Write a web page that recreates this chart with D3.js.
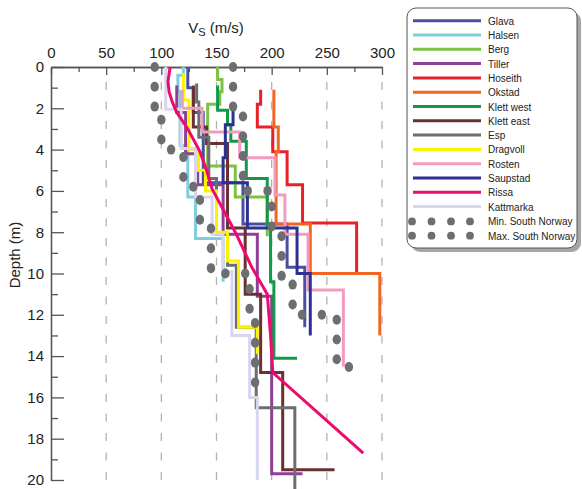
<!DOCTYPE html>
<html>
<head>
<meta charset="utf-8">
<script src="https://cdn.jsdelivr.net/npm/d3@7"></script>
<style>
  body { margin: 0; background: #fff; }
  text { font-family: "Liberation Sans", Arial, sans-serif; fill: #222; }
</style>
</head>
<body>
<div id="chart"></div>
<script>
// site names and colours (legend order)
var sites = ["Glava", "Halsen", "Berg", "Tiller", "Hoseith", "Okstad", "Klett west",
    "Klett east", "Esp", "Dragvoll", "Rosten", "Saupstad", "Rissa", "Kattmarka"];
var colors = ["#4a4fa0", "#7fcde0", "#7dc242", "#8e3f98", "#e8202a", "#f26522", "#0f9a48",
    "#6b3030", "#6d6e71", "#fff200", "#f49ac1", "#2e3192", "#ec0c6e", "#d9d5ef"];

// layers: [Vs, top depth, bottom depth]
var glava = [[124, 0, 1.0], [129, 1.0, 2.2], [138, 2.2, 5.6], [174, 5.6, 7.6], [214, 7.6, 9.7], [230, 9.7, 12.6]];
var halsen = [[120, 0, 0.4], [115, 0.4, 1.2], [117, 1.2, 3.8], [124, 3.8, 6.3], [131, 6.3, 8.3], [156, 8.3, 10.4]];
var berg = [[151, 0, 0.6], [155, 0.6, 1.2], [153, 1.2, 1.8], [142, 1.8, 4.8], [167, 4.8, 6.3], [196, 6.3, 8.2]];
var tiller = [[114, 0.9, 2.2], [122, 2.2, 4.2], [133, 4.2, 5.7], [156, 5.7, 8.1], [187, 8.1, 11.1], [200, 11.1, 19.7], [228, 19.7, 19.7]];
var hoseith = [[190, 1.1, 1.8], [187, 1.8, 2.9], [201, 2.9, 4.1], [214, 4.1, 5.7], [228, 5.7, 7.55], [277, 7.55, 10]];
var okstad = [[202, 1.1, 2.9], [206, 2.9, 4.1], [204, 4.1, 7.6], [235, 7.6, 10], [298, 10, 13]];
var klettWest = [[151, 0.9, 2.1], [160, 2.1, 2.8], [163, 2.8, 3.6], [177, 3.6, 5.4], [196, 5.4, 7.7], [199, 7.7, 10.4], [202, 10.4, 14.1], [223, 14.1, 14.1]];
var klettEast = [[129, 0.9, 2.9], [141, 2.9, 3.7], [160, 3.7, 7.8], [176, 7.8, 11], [190, 11, 14.8], [210, 14.8, 19.5], [257, 19.5, 19.5]];
var esp = [[132, 0.8, 1.7], [134, 1.7, 3.4], [143, 3.4, 5.4], [150, 5.4, 8.1], [160, 8.1, 9.6], [168, 9.6, 12.6], [186, 12.6, 16.5], [221, 16.5, 20.5]];
var dragvoll = [[120, 0.3, 1.6], [125, 1.6, 4], [133, 4, 5], [140, 5, 6], [150, 6, 8], [160, 8, 9.4], [170, 9.4, 12.6], [187, 12.6, 13.9]];
var rosten = [[119, 1.1, 2.0], [137, 2.0, 3.15], [171, 3.15, 4.4], [203, 4.4, 6.2], [212, 6.2, 8.1], [233, 8.1, 10.8], [265, 10.8, 14.5]];
var saupstad = [[165, 2.0, 2.8], [158, 2.8, 4.4], [156, 4.4, 5.6], [178, 5.6, 7.8], [223, 7.8, 10], [235, 10, 13]];
var kattmarka = [[104, 0, 2.05], [118, 2.05, 3.95], [131, 3.95, 6.3], [146, 6.3, 8.1], [156, 8.1, 9.9], [164, 9.9, 13], [180, 13, 16], [187, 16, 20]];
// Rissa is a smooth curve: [Vs, depth]
var rissa = [[108, 0], [106, 0.7], [107, 1.2], [110, 1.7], [114, 2.2], [124, 3.0], [135, 4.1], [141, 5.0],
    [146, 5.9], [157, 7.0], [168, 8.1], [182, 9.7], [196, 11], [199, 13], [201, 14.8], [283, 18.7]];
var profiles = [glava, halsen, berg, tiller, hoseith, okstad, klettWest, klettEast, esp, dragvoll, rosten, saupstad, null, kattmarka];

// South Norway bounds
var minSN = [[94, 0, 2.2], [100, 2.2, 4.0], [120, 4.0, 5.8], [135, 5.8, 7.8], [145, 7.8, 10], [180, 10, 12], [185, 12, 15.3]];
var maxSN = [[165, 0, 2.2], [174, 2.2, 6], [200, 6, 7.8], [209, 7.8, 10.2], [219, 10.2, 12], [259, 12, 14.2], [270, 14.2, 15.3]];

var xTicks = [0, 50, 100, 150, 200, 250, 300];
var xMinor = [25, 75, 125, 175, 225, 275];
var yTicks = [0, 2, 4, 6, 8, 10, 12, 14, 16, 18, 20];
var yMinor = [1, 3, 5, 7, 9, 11, 13, 15, 17, 19];

var svgWidth = 582;
var svgHeight = 489;
var margin = { top: 67, left: 51 };
var width = 331;
var height = 413;

var svg = d3.select("#chart")
    .append("svg")
    .attr("width", svgWidth)
    .attr("height", svgHeight);

var chartGroup = svg.append("g")
    .attr("transform", `translate(${margin.left}, ${margin.top})`);

var x = d3.scaleLinear().domain([0, 300]).range([0, width]);
var y = d3.scaleLinear().domain([0, 20]).range([0, height]);

// dashed grid
chartGroup.selectAll("line.grid")
    .data(xTicks.slice(1))
    .enter()
    .append("line")
    .attr("x1", d => x(d))
    .attr("x2", d => x(d))
    .attr("y1", 15)
    .attr("y2", height)
    .attr("stroke", "#b3b3b3")
    .attr("stroke-width", 1.3)
    .attr("stroke-dasharray", "8,11.5");

// axes
var xAxis = d3.axisTop(x).tickValues(xTicks).tickSizeInner(-8).tickSizeOuter(0).tickPadding(9);
var xAxisMinor = d3.axisTop(x).tickValues(xMinor).tickSizeInner(-5).tickSizeOuter(0).tickFormat("");
var yAxis = d3.axisLeft(y).tickValues(yTicks).tickSizeInner(-13).tickSizeOuter(0).tickPadding(7);
var yAxisMinor = d3.axisLeft(y).tickValues(yMinor).tickSizeInner(-7).tickSizeOuter(0).tickFormat("");

[chartGroup.append("g").call(xAxis), chartGroup.append("g").call(xAxisMinor),
 chartGroup.append("g").call(yAxis), chartGroup.append("g").call(yAxisMinor)].forEach(g => {
    g.selectAll("path, line").attr("stroke", "#555").attr("stroke-width", 1.3);
    g.selectAll("text").style("font-size", "15px").attr("fill", "#222");
});

// step profiles
function stepPoints(layers) {
    var pts = [];
    layers.forEach(l => { pts.push([l[0], l[1]]); pts.push([l[0], l[2]]); });
    return pts;
}
var line = d3.line().x(d => x(d[0])).y(d => y(d[1]));

profiles.forEach((p, i) => {
    if (p === null) return;
    chartGroup.append("path")
        .attr("d", line(stepPoints(p)))
        .attr("fill", "none")
        .attr("stroke", colors[i])
        .attr("stroke-width", 3);
});

chartGroup.append("path")
    .attr("d", line(rissa))
    .attr("fill", "none")
    .attr("stroke", colors[12])
    .attr("stroke-width", 3);

// dotted bounds: ellipses spaced along the step path
[minSN, maxSN].forEach(b => {
    var p = chartGroup.append("path")
        .attr("d", line(stepPoints(b)))
        .attr("fill", "none")
        .attr("stroke", "none");
    var node = p.node();
    var len = node.getTotalLength();
    var pts = [];
    for (var s = 0; s <= len; s += 19.8) pts.push(node.getPointAtLength(s));
    chartGroup.selectAll(null)
        .data(pts)
        .enter()
        .append("ellipse")
        .attr("cx", d => d.x)
        .attr("cy", d => d.y)
        .attr("rx", 4.2)
        .attr("ry", 5)
        .attr("fill", "#6d6e71");
});

// axis titles
var title = svg.append("text")
    .attr("x", 216)
    .attr("y", 33)
    .attr("text-anchor", "middle")
    .style("font-size", "15px");
title.append("tspan").text("V");
title.append("tspan").text("S").style("font-size", "11px").attr("dy", 3);
title.append("tspan").text(" (m/s)").attr("dy", -3);

svg.append("text")
    .attr("transform", "translate(20, 255) rotate(-90)")
    .attr("text-anchor", "middle")
    .style("font-size", "15px")
    .text("Depth (m)");

// legend
var legend = svg.append("g");
legend.append("rect")
    .attr("x", 411).attr("y", 12).attr("width", 170).attr("height", 240)
    .attr("rx", 9).attr("fill", "#a6a6a6");
legend.append("rect")
    .attr("x", 407).attr("y", 8).attr("width", 170).attr("height", 240)
    .attr("rx", 9).attr("fill", "#fff").attr("stroke", "#555").attr("stroke-width", 1);

var rowY = d3.scaleLinear().domain([0, 1]).range([20.7, 35]);
sites.forEach((s, i) => {
    legend.append("line")
        .attr("x1", 413).attr("x2", 481)
        .attr("y1", rowY(i)).attr("y2", rowY(i))
        .attr("stroke", colors[i]).attr("stroke-width", 3);
    legend.append("text")
        .attr("x", 488).attr("y", rowY(i) + 4)
        .style("font-size", "10px")
        .text(s);
});
["Min. South Norway", "Max. South Norway"].forEach((s, j) => {
    var yy = rowY(14 + j) + 0.5;
    [412, 431.5, 451, 470].forEach(cx => {
        legend.append("circle").attr("cx", cx).attr("cy", yy).attr("r", 3.9).attr("fill", "#6d6e71");
    });
    legend.append("text")
        .attr("x", 488).attr("y", yy + 4)
        .style("font-size", "10px")
        .text(s);
});
</script>
</body>
</html>
